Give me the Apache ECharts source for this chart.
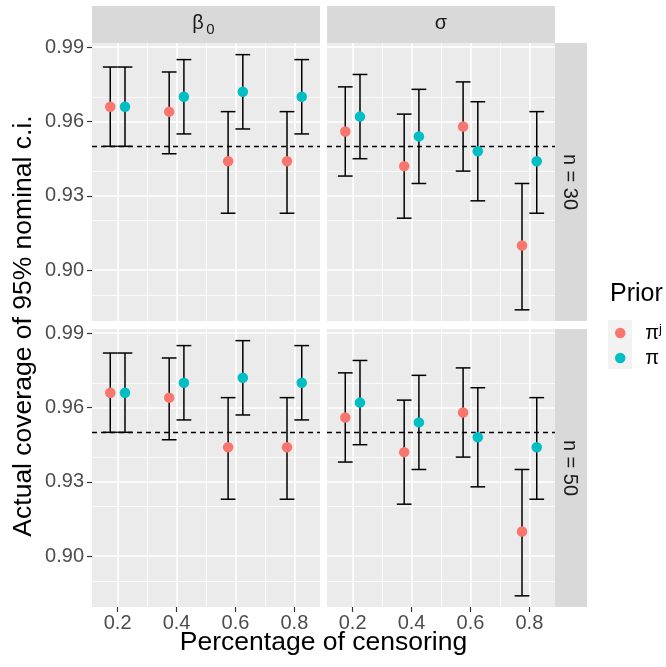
<!DOCTYPE html>
<html>
<head>
<meta charset="utf-8">
<script src="https://cdn.jsdelivr.net/npm/echarts@6/dist/echarts.min.js"></script>
<style>
  html, body { margin: 0; padding: 0; background: #fff; }
  #chart { width: 666px; height: 667px; }
</style>
</head>
<body>
<div id="chart"></div>
<script>
// censoring levels and axis ticks
const censoring = [0.2, 0.4, 0.6, 0.8];
const xMajor = [0.2, 0.4, 0.6, 0.8];
const xMinor = [0.3, 0.5, 0.7];
const yMajor = [0.90, 0.93, 0.96, 0.99];
const yMinor = [0.885, 0.915, 0.945, 0.975];
const nominal = 0.95;

// [coverage, lower, upper] per censoring level
const beta0_n30_piJ = [[0.966, 0.950, 0.982], [0.964, 0.947, 0.980], [0.944, 0.923, 0.964], [0.944, 0.923, 0.964]];
const beta0_n30_pi  = [[0.966, 0.950, 0.982], [0.970, 0.955, 0.985], [0.972, 0.957, 0.987], [0.970, 0.955, 0.985]];
const sigma_n30_piJ = [[0.956, 0.938, 0.974], [0.942, 0.921, 0.963], [0.958, 0.940, 0.976], [0.910, 0.884, 0.935]];
const sigma_n30_pi  = [[0.962, 0.945, 0.979], [0.954, 0.935, 0.973], [0.948, 0.928, 0.968], [0.944, 0.923, 0.964]];
const beta0_n50_piJ = [[0.966, 0.950, 0.982], [0.964, 0.947, 0.980], [0.944, 0.923, 0.964], [0.944, 0.923, 0.964]];
const beta0_n50_pi  = [[0.966, 0.950, 0.982], [0.970, 0.955, 0.985], [0.972, 0.957, 0.987], [0.970, 0.955, 0.985]];
const sigma_n50_piJ = [[0.956, 0.938, 0.974], [0.942, 0.921, 0.963], [0.958, 0.940, 0.976], [0.910, 0.884, 0.935]];
const sigma_n50_pi  = [[0.962, 0.945, 0.979], [0.954, 0.935, 0.973], [0.948, 0.928, 0.968], [0.944, 0.923, 0.964]];

const FONT = 'Liberation Sans';
const PINK = '#F8766D';
const CYAN = '#00BFC4';
const dodge = 0.025;     // position_dodge half width
const capWidth = 0.05;   // errorbar width in x units

const panels = [
  { piJ: beta0_n30_piJ, pi: beta0_n30_pi, left: 92,  top: 43,  showY: true,  showX: false },
  { piJ: sigma_n30_piJ, pi: sigma_n30_pi, left: 327, top: 43,  showY: false, showX: false },
  { piJ: beta0_n50_piJ, pi: beta0_n50_pi, left: 92,  top: 329, showY: true,  showX: true },
  { piJ: sigma_n50_piJ, pi: sigma_n50_pi, left: 327, top: 329, showY: false, showX: true }
];

const grids = [], xAxes = [], yAxes = [], series = [];

function errorBars (params, api) {
  const x = api.value(0);
  const top = api.coord([x, api.value(2)]);
  const bot = api.coord([x, api.value(1)]);
  const hw = api.size([capWidth, 0])[0] / 2;
  const style = { stroke: '#000', lineWidth: 1.5 };
  return {
    type: 'group',
    children: [
      { type: 'line', shape: { x1: top[0], y1: top[1], x2: bot[0], y2: bot[1] }, style },
      { type: 'line', shape: { x1: top[0] - hw, y1: top[1], x2: top[0] + hw, y2: top[1] }, style },
      { type: 'line', shape: { x1: bot[0] - hw, y1: bot[1], x2: bot[0] + hw, y2: bot[1] }, style }
    ]
  };
}

panels.forEach((p, i) => {
  grids.push({
    left: p.left, top: p.top, width: 228, height: 278,
    show: true, backgroundColor: '#EBEBEB', borderWidth: 0
  });
  xAxes.push({
    type: 'value', gridIndex: i, min: 0.113, max: 0.887,
    axisLine: { show: false },
    splitLine: { show: false },
    axisTick: { show: p.showX, customValues: xMajor, length: 5, lineStyle: { color: '#333333', width: 1.2 } },
    axisLabel: {
      show: p.showX, customValues: xMajor, margin: 6,
      formatter: v => v.toFixed(1),
      color: '#4D4D4D', fontSize: 20, fontFamily: FONT
    }
  });
  yAxes.push({
    type: 'value', gridIndex: i, min: 0.8795, max: 0.9917,
    axisLine: { show: false },
    splitLine: { show: false },
    axisTick: { show: p.showY, customValues: yMajor, length: 5, lineStyle: { color: '#333333', width: 1.2 } },
    axisLabel: {
      show: p.showY, customValues: yMajor, margin: 8,
      formatter: v => v.toFixed(2),
      color: '#4D4D4D', fontSize: 20, fontFamily: FONT
    }
  });

  // panel grid lines
  const major = { type: 'solid', color: '#FFFFFF', width: 1.6 };
  const minor = { type: 'solid', color: '#FFFFFF', width: 0.8 };
  series.push({
    type: 'line', name: 'grid', xAxisIndex: i, yAxisIndex: i, data: [], silent: true,
    markLine: {
      silent: true, symbol: 'none', z: 1, animation: false, label: { show: false },
      data: [].concat(
        yMinor.map(v => ({ yAxis: v, lineStyle: minor })),
        xMinor.map(v => ({ xAxis: v, lineStyle: minor })),
        yMajor.map(v => ({ yAxis: v, lineStyle: major })),
        xMajor.map(v => ({ xAxis: v, lineStyle: major }))
      )
    }
  });

  [['pij', p.piJ, -dodge, PINK], ['pi', p.pi, dodge, CYAN]].forEach(([name, rows, off, color], k) => {
    series.push({
      type: 'custom', name: name + '-ci', xAxisIndex: i, yAxisIndex: i, z: 3,
      renderItem: errorBars,
      encode: { x: 0, y: [1, 2] },
      data: rows.map((r, j) => [censoring[j] + off, r[1], r[2]])
    });
    series.push({
      type: 'scatter', name, xAxisIndex: i, yAxisIndex: i, z: 4,
      symbol: 'circle', symbolSize: 10.5,
      itemStyle: { color, opacity: 1 },
      data: rows.map((r, j) => [censoring[j] + off, r[0]]),
      markLine: k === 0 ? {
        silent: true, symbol: 'none', z: 2, animation: false, label: { show: false },
        lineStyle: { type: [5, 4], color: '#000', width: 1.4 },
        data: [{ yAxis: nominal }]
      } : undefined
    });
  });
});

const txt = (x, y, text, size, extra) => Object.assign({
  type: 'text', x, y, z: 10,
  style: { text, fontSize: size, fontFamily: FONT, fill: '#1A1A1A', align: 'center', verticalAlign: 'middle' }
}, extra || {});

const graphic = [
  { type: 'rect', shape: { x: 92, y: 6, width: 228, height: 37 }, style: { fill: '#D9D9D9' } },
  { type: 'rect', shape: { x: 327, y: 6, width: 228, height: 37 }, style: { fill: '#D9D9D9' } },
  { type: 'rect', shape: { x: 555, y: 43, width: 32, height: 278 }, style: { fill: '#D9D9D9' } },
  { type: 'rect', shape: { x: 555, y: 329, width: 32, height: 278 }, style: { fill: '#D9D9D9' } },
  { type: 'rect', shape: { x: 608, y: 320, width: 24, height: 49 }, style: { fill: '#F2F2F2' } },
  txt(198, 23, 'β', 20),
  txt(210.5, 29.5, '0', 15),
  txt(441, 23, 'σ', 20),
  txt(570, 182, 'n = 30', 20, { rotation: -Math.PI / 2 }),
  txt(570, 468, 'n = 50', 20, { rotation: -Math.PI / 2 }),
  { type: 'text', x: 610, y: 294, z: 10, style: { text: 'Prior', fontSize: 25, fontFamily: FONT, fill: '#000', align: 'left', verticalAlign: 'middle' } },
  { type: 'text', x: 323.5, y: 643, z: 10, style: { text: 'Percentage of censoring', fontSize: 26.5, fontFamily: FONT, fill: '#000', align: 'center', verticalAlign: 'middle' } },
  { type: 'text', x: 24, y: 326, z: 10, rotation: Math.PI / 2, style: { text: 'Actual coverage of 95% nominal c.i.', fontSize: 26.5, fontFamily: FONT, fill: '#000', align: 'center', verticalAlign: 'middle' } }
];

const chart = echarts.init(document.getElementById('chart'), null, { renderer: 'canvas' });
chart.setOption({
  animation: false,
  backgroundColor: '#FFFFFF',
  grid: grids,
  xAxis: xAxes,
  yAxis: yAxes,
  legend: {
    data: ['pij', 'pi'],
    orient: 'vertical', left: 615, top: 323, padding: 0,
    itemWidth: 24, itemHeight: 10.5, itemGap: 5,
    icon: 'circle', selectedMode: false,
    formatter: name => name === 'pij' ? '{p|π}{s|j}' : '{p|π}',
    textStyle: {
      color: '#000', fontFamily: FONT, fontSize: 20,
      rich: {
        p: { fontSize: 20, fontFamily: FONT, lineHeight: 20, padding: [0, 0, 0, 8] },
        s: { fontSize: 13, fontFamily: FONT, verticalAlign: 'top', lineHeight: 20 }
      }
    }
  },
  graphic,
  series
});
</script>
</body>
</html>
